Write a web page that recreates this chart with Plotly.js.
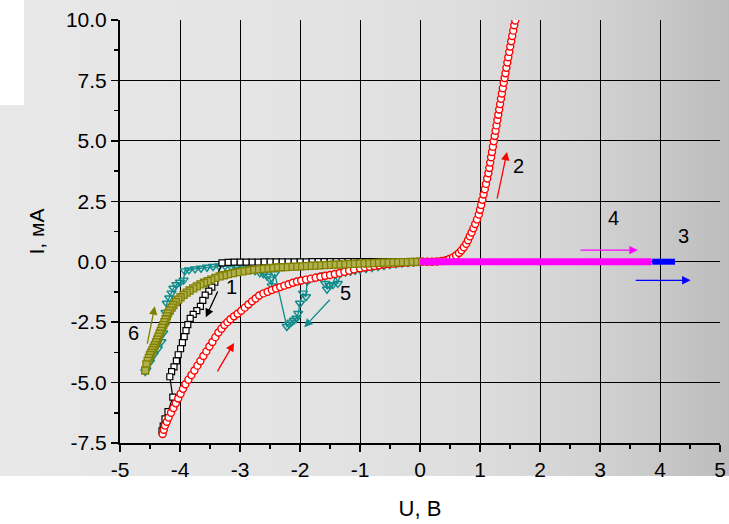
<!DOCTYPE html>
<html>
<head>
<meta charset="utf-8">
<script src="https://cdn.plot.ly/plotly-3.0.1.min.js"></script>
<style>
body{margin:0;background:#fff;}
#bg{position:absolute;left:0;top:0;width:729px;height:476px;
background:linear-gradient(to right,#e8e8e8 0%,#e3e3e3 45%,#dddddd 65%,#d3d3d3 80%,#c9c9c9 90%,#bcbcbc 100%);}
#notch{position:absolute;left:0;top:0;width:24px;height:105px;background:#fff;}
#plot{position:absolute;left:0;top:0;width:729px;height:524px;}
</style>
</head>
<body>
<div id="bg"></div>
<div id="notch"></div>
<div id="plot"></div>
<script>
// ---- data (U, V ; I, mA) ----
const xTicks = [-5,-4,-3,-2,-1,0,1,2,3,4,5];
const yTicks = [-7.5,-5.0,-2.5,0.0,2.5,5.0,7.5,10.0];

// curve 1 (black squares)
const s1 = [[0,0],[-0.1,0],[-0.2,0],[-0.3,0],[-0.4,0],[-0.5,0],[-0.6,0],[-0.7,0],[-0.8,0],[-0.9,0],[-1.0,0],
[-1.1,0],[-1.2,0],[-1.3,0],[-1.4,0],[-1.5,0],[-1.6,0],[-1.7,0],[-1.8,0],[-1.9,-0.01],[-2.0,-0.01],[-2.1,-0.01],
[-2.2,-0.01],[-2.3,-0.01],[-2.4,-0.01],[-2.5,-0.01],[-2.6,-0.01],[-2.7,-0.02],[-2.8,-0.02],[-2.9,-0.02],[-3.0,-0.02],
[-3.1,-0.02],[-3.2,-0.03],[-3.3,-0.05],[-3.42,-0.85],[-3.47,-1.05],[-3.52,-1.22],[-3.58,-1.38],[-3.62,-1.6],
[-3.66,-1.85],[-3.72,-2.02],[-3.78,-2.18],[-3.83,-2.34],[-3.87,-2.6],[-3.9,-2.85],[-3.93,-3.1],[-3.96,-3.35],
[-3.99,-3.6],[-4.03,-3.85],[-4.06,-4.1],[-4.1,-4.35],[-4.14,-4.55],[-4.17,-4.76],[-4.12,-5.6],[-4.2,-6.2],
[-4.25,-6.5],[-4.28,-6.8],[-4.3,-7.0]];

// curve 2 (red circles)
const s2 = [[-4.29,-7.13],[-4.27,-6.95],[-4.25,-6.78],[-4.22,-6.62],[-4.19,-6.45],[-4.15,-6.25],[-4.11,-6.05],
[-4.07,-5.86],[-4.03,-5.66],[-3.99,-5.46],[-3.95,-5.26],[-3.91,-5.07],[-3.86,-4.88],[-3.81,-4.69],[-3.76,-4.5],
[-3.71,-4.3],[-3.66,-4.11],[-3.61,-3.9],[-3.56,-3.71],[-3.51,-3.51],[-3.46,-3.32],[-3.41,-3.12],[-3.36,-2.93],
[-3.31,-2.77],[-3.26,-2.62],[-3.21,-2.5],[-3.16,-2.38],[-3.1,-2.26],[-3.04,-2.15],[-2.98,-2.03],[-2.92,-1.9],
[-2.86,-1.77],[-2.8,-1.64],[-2.74,-1.52],[-2.68,-1.4],[-2.61,-1.31],[-2.54,-1.24],[-2.47,-1.17],[-2.4,-1.11],
[-2.33,-1.05],[-2.26,-0.99],[-2.19,-0.93],[-2.12,-0.87],[-2.05,-0.82],[-1.98,-0.78],[-1.9,-0.74],[-1.82,-0.7],
[-1.74,-0.66],[-1.66,-0.62],[-1.58,-0.58],[-1.5,-0.55],[-1.42,-0.51],[-1.34,-0.47],[-1.26,-0.42],[-1.18,-0.37],
[-1.1,-0.32],[-1.0,-0.27],[-0.92,-0.24],[-0.84,-0.21],[-0.76,-0.18],[-0.68,-0.15],[-0.6,-0.12],[-0.52,-0.1],
[-0.44,-0.08],[-0.36,-0.06],[-0.28,-0.04],[-0.2,-0.03],[-0.12,-0.02],[-0.04,-0.01],
[0.04,0],[0.12,0],[0.2,0],[0.28,0.01],[0.36,0.03],[0.43,0.06],[0.49,0.11],[0.55,0.18],[0.6,0.26],[0.65,0.36],
[0.69,0.47],[0.73,0.6],[0.77,0.74],[0.8,0.89],[0.83,1.05],[0.86,1.21],[0.89,1.38],[0.92,1.56],[0.95,1.75],
[0.98,1.95],[1.0,2.15],[1.02,2.35],[1.04,2.56],[1.06,2.78],[1.08,3.0],[1.1,3.22],[1.12,3.44],[1.14,3.66],
[1.155,3.88],[1.17,4.1],[1.185,4.32],[1.2,4.54],[1.215,4.76],[1.23,4.98],[1.245,5.2],[1.26,5.42],[1.275,5.64],
[1.29,5.86],[1.305,6.08],[1.32,6.3],[1.335,6.52],[1.35,6.74],[1.365,6.96],[1.38,7.18],[1.395,7.4],[1.41,7.6],
[1.425,7.8],[1.44,8.02],[1.456,8.24],[1.472,8.46],[1.488,8.68],[1.504,8.9],[1.52,9.12],[1.537,9.34],
[1.554,9.56],[1.571,9.78],[1.588,9.98]];

// curve 3 (blue triangles)
const s3 = [[3.87,0],[3.92,0],[3.97,0],[4.02,0],[4.07,0],[4.12,0],[4.17,0],[4.21,0],[4.25,0]];

// curve 4 (magenta triangles)
const s4 = [[0,0],[0.1,0],[0.2,0],[0.3,0],[0.4,0],[0.5,0],[0.6,0],[0.7,0],[0.8,0],[0.9,0],[1.0,0],[1.1,0],[1.2,0],
[1.3,0],[1.4,0],[1.5,0],[1.6,0],[1.7,0],[1.8,0],[1.9,0],[2.0,0],[2.1,0],[2.2,0],[2.3,0],[2.4,0],[2.5,0],[2.6,0],
[2.7,0],[2.8,0],[2.9,0],[3.0,0],[3.1,0],[3.2,0],[3.3,0],[3.4,0],[3.5,0],[3.6,0],[3.7,0],[3.8,0],[3.86,0]];

// curve 5 (teal triangles)
const s5 = [[0,0],[-0.1,-0.02],[-0.2,-0.04],[-0.3,-0.06],[-0.4,-0.09],[-0.5,-0.12],[-0.6,-0.16],[-0.7,-0.2],
[-0.8,-0.24],[-0.9,-0.28],[-1.0,-0.33],[-1.08,-0.36],[-1.16,-0.4],[-1.24,-0.43],[-1.32,-0.47],[-1.37,-0.9],
[-1.41,-0.52],[-1.45,-0.95],[-1.5,-0.98],[-1.55,-1.14],[-1.58,-0.9],[-1.6,-0.55],[-1.68,-0.6],[-1.76,-0.66],
[-1.84,-0.72],[-1.88,-0.8],[-1.9,-1.45],[-1.95,-1.3],[-2.0,-1.72],[-2.03,-2.14],[-2.06,-2.34],[-2.1,-2.42],
[-2.14,-2.5],[-2.18,-2.58],[-2.22,-2.68],[-2.42,-0.5],[-2.47,-1.0],[-2.5,-0.72],[-2.55,-0.6],[-2.61,-0.5],
[-2.67,-0.46],[-2.75,-0.38],[-2.85,-0.3],[-2.95,-0.26],[-3.05,-0.22],[-3.15,-0.2],[-3.25,-0.17],[-3.35,-0.18],
[-3.45,-0.2],[-3.55,-0.23],[-3.65,-0.27],[-3.75,-0.3],[-3.85,-0.34],[-3.92,-0.38],[-3.94,-0.76],[-4.0,-0.85],
[-4.06,-0.95],[-4.11,-1.1],[-4.14,-1.3],[-4.18,-1.5],[-4.22,-1.72],[-4.24,-2.1],[-4.25,-2.62],[-4.28,-2.95],
[-4.31,-3.31],[-4.37,-3.6],[-4.44,-3.86],[-4.5,-4.15],[-4.56,-4.48],[-4.58,-4.55]];

// curve 6 (olive squares)
const s6 = [[0,0],[-0.08,-0.01],[-0.16,-0.01],[-0.24,-0.02],[-0.32,-0.02],[-0.4,-0.03],[-0.48,-0.03],[-0.56,-0.04],
[-0.64,-0.04],[-0.72,-0.05],[-0.8,-0.06],[-0.88,-0.07],[-0.96,-0.07],[-1.04,-0.08],[-1.12,-0.09],[-1.2,-0.1],
[-1.28,-0.11],[-1.36,-0.12],[-1.44,-0.12],[-1.52,-0.13],[-1.6,-0.14],[-1.68,-0.15],[-1.76,-0.16],[-1.84,-0.17],
[-1.92,-0.18],[-2.0,-0.19],[-2.08,-0.2],[-2.16,-0.21],[-2.24,-0.22],[-2.32,-0.23],[-2.4,-0.24],[-2.48,-0.26],
[-2.56,-0.28],[-2.64,-0.3],[-2.72,-0.32],[-2.8,-0.34],[-2.88,-0.37],[-2.96,-0.4],[-3.04,-0.43],[-3.12,-0.47],
[-3.2,-0.51],[-3.27,-0.56],[-3.34,-0.61],[-3.41,-0.67],[-3.48,-0.74],[-3.54,-0.8],[-3.6,-0.87],[-3.66,-0.94],
[-3.72,-1.02],[-3.78,-1.1],[-3.84,-1.19],[-3.89,-1.28],[-3.94,-1.37],[-3.99,-1.47],[-4.03,-1.57],[-4.07,-1.67],
[-4.11,-1.79],[-4.14,-1.9],[-4.17,-2.02],[-4.2,-2.14],[-4.22,-2.26],[-4.24,-2.38],[-4.26,-2.5],[-4.28,-2.62],
[-4.3,-2.74],[-4.32,-2.86],[-4.34,-2.98],[-4.36,-3.1],[-4.38,-3.22],[-4.4,-3.34],[-4.42,-3.45],[-4.44,-3.56],
[-4.46,-3.66],[-4.48,-3.76],[-4.5,-3.86],[-4.52,-3.98],[-4.54,-4.1],[-4.56,-4.25],[-4.58,-4.5]];

// direction arrows: [tailX, tailY, headX, headY]
const arrows = [
  [-3.36,-1.17,-3.57,-2.30],   // curve 1
  [1.28,2.55,1.45,4.54],       // curve 2 (upper)
  [-3.39,-4.60,-3.10,-3.36],   // curve 2 (lower)
  [3.57,-0.77,4.51,-0.77],     // curve 3
  [2.65,0.48,3.63,0.48],       // curve 4
  [-1.48,-1.51,-1.93,-2.71],   // curve 5
  [-4.55,-3.45,-4.42,-1.84]    // curve 6
];
const arrowColors = ['#000000','#ff0000','#ff0000','#0000ff','#ff00ff','#108c8c','#808000'];

// curve number labels: [text, x, y]
const labels = [['1',-3.14,-1.03],['2',1.64,3.97],['3',4.39,1.06],['4',3.22,1.80],['5',-1.25,-1.31],['6',-4.78,-2.94]];

// ---- build ----
const X = a => a.map(p => p[0]);
const Y = a => a.map(p => p[1]);
const FONT = 'Liberation Sans, Arial, sans-serif';

const traces = [
  {x:X(s5), y:Y(s5), mode:'lines+markers', line:{color:'#108c8c', width:1.3},
   marker:{symbol:'triangle-down-open', size:8, color:'#108c8c', line:{width:1.4}}},
  {x:X(s1), y:Y(s1), mode:'lines+markers', line:{color:'#000000', width:1.2},
   marker:{symbol:'square', size:6, color:'#ffffff', line:{color:'#000000', width:1.2}}},
  {x:X(s2), y:Y(s2), mode:'lines+markers', line:{color:'#ff0000', width:1.2},
   marker:{symbol:'circle', size:7, color:'#ffffff', line:{color:'#ff0000', width:1.4}}},
  {x:X(s6), y:Y(s6), mode:'lines+markers', line:{color:'#808000', width:1.2},
   marker:{symbol:'square', size:7, color:'#b0b050', line:{color:'#808000', width:1.3}}},
  {x:X(s4), y:Y(s4), mode:'lines', line:{color:'#ff00ff', width:7}},
  {x:X(s3), y:Y(s3), mode:'lines', line:{color:'#0000ff', width:6}}
];

const annotations = [];
arrows.forEach((a,i) => {
  annotations.push({x:a[2], y:a[3], ax:a[0], ay:a[1], xref:'x', yref:'y', axref:'x', ayref:'y',
    showarrow:true, arrowhead:2, arrowsize:1.3, arrowwidth:1.3, arrowcolor:arrowColors[i], text:''});
});
labels.forEach(l => {
  annotations.push({x:l[1], y:l[2], xref:'x', yref:'y', text:l[0], showarrow:false,
    xanchor:'center', yanchor:'middle', font:{family:FONT, size:20, color:'#000'}});
});

const layout = {
  width:729, height:524,
  margin:{l:120, r:9, t:20, b:81},
  paper_bgcolor:'rgba(0,0,0,0)', plot_bgcolor:'rgba(0,0,0,0)',
  showlegend:false,
  font:{family:FONT, color:'#000'},
  xaxis:{range:[-5,5], tickvals:xTicks, ticktext:xTicks.map(String),
    ticks:'outside', ticklen:7, tickwidth:1.5, tickcolor:'#000',
    showline:true, linewidth:2, linecolor:'#000', mirror:false,
    showgrid:true, gridcolor:'#000', gridwidth:1, zeroline:false,
    minor:{dtick:0.5, ticks:'outside', ticklen:4, tickwidth:1.5, tickcolor:'#000', showgrid:false},
    tickfont:{family:FONT, size:21, color:'#000'},
    title:{text:'U, В', font:{family:FONT, size:22, color:'#000'}, standoff:20}},
  yaxis:{range:[-7.5,10], tickvals:yTicks, ticktext:yTicks.map(v=>v.toFixed(1)),
    ticks:'outside', ticklen:7, tickwidth:1.5, tickcolor:'#000',
    showline:true, linewidth:2, linecolor:'#000', mirror:false,
    showgrid:true, gridcolor:'#000', gridwidth:1, zeroline:false,
    minor:{dtick:1.25, ticks:'outside', ticklen:4, tickwidth:1.5, tickcolor:'#000', showgrid:false},
    tickfont:{family:FONT, size:21, color:'#000'},
    title:{text:'I, мА', font:{family:FONT, size:21, color:'#000'}, standoff:16}},
  annotations:annotations
};

Plotly.newPlot('plot', traces, layout, {displayModeBar:false, staticPlot:true});
</script>
</body>
</html>
